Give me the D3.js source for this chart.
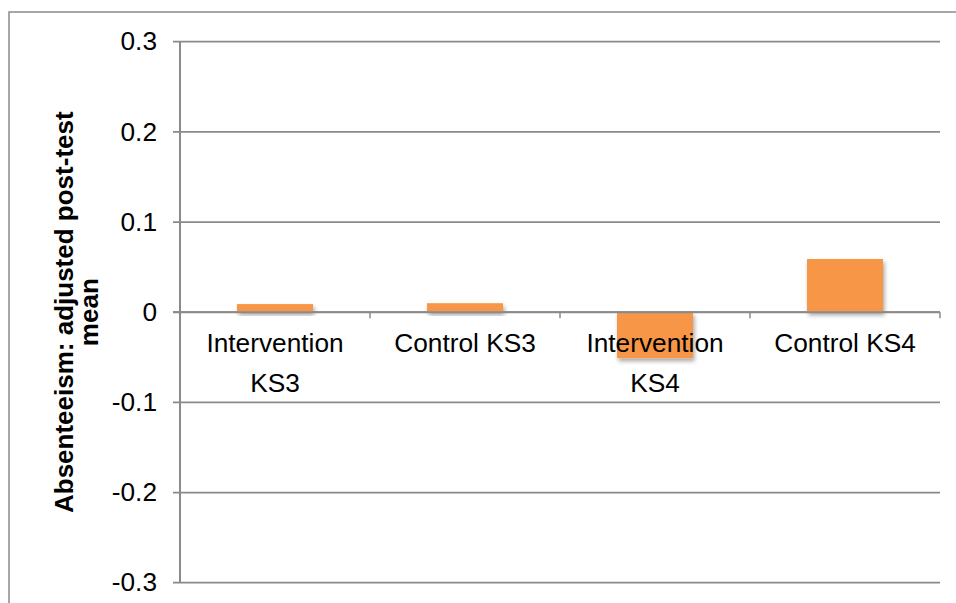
<!DOCTYPE html>
<html>
<head>
<meta charset="utf-8">
<script src="https://cdn.jsdelivr.net/npm/d3@7"></script>
<style>
  html, body { margin: 0; padding: 0; background: #fff; }
  svg { display: block; }
  text { font-family: "Liberation Sans", Arial, sans-serif; fill: #000; }
</style>
</head>
<body>
<svg id="chart" width="956" height="603"></svg>
<script>
// Adjusted post-test means for absenteeism, by group and key stage
const categories = ["Intervention KS3", "Control KS3", "Intervention KS4", "Control KS4"];
const values = [0.009, 0.010, -0.051, 0.059];
const tickValues = [-0.3, -0.2, -0.1, 0, 0.1, 0.2, 0.3];
const tickLabels = ["-0.3", "-0.2", "-0.1", "0", "0.1", "0.2", "0.3"];
const yTitleLines = ["Absenteeism: adjusted post-test", "mean"];

const svg = d3.select("#chart");
const W = 956, H = 603;
const plot = { left: 180, right: 940, top: 41.7, bottom: 582.7 };
const gridColor = "#8a8a8a";
const barColor = "#F79646";
const fontSize = 25;
const sx = 1.05; // horizontal text stretch

const defs = svg.append("defs");
const shadow = defs.append("filter").attr("id", "shadow")
  .attr("x", "-20%").attr("y", "-20%").attr("width", "140%").attr("height", "160%");
shadow.append("feDropShadow")
  .attr("dx", 1.5).attr("dy", 3).attr("stdDeviation", 2.2)
  .attr("flood-color", "#000").attr("flood-opacity", 0.35);

// Outer chart frame (runs off the right and bottom edges)
svg.append("rect")
  .attr("x", 9).attr("y", 12)
  .attr("width", W + 20).attr("height", H + 20)
  .attr("fill", "none").attr("stroke", gridColor).attr("stroke-width", 1.5);

const x = d3.scaleBand().domain(categories)
  .range([plot.left, plot.right]).paddingInner(0.6).paddingOuter(0.3);
const y = d3.scaleLinear().domain([-0.3, 0.3]).range([plot.bottom, plot.top]);

// Horizontal gridlines
svg.append("g").selectAll("line").data(tickValues).join("line")
  .attr("x1", plot.left - 7).attr("x2", plot.right)
  .attr("y1", d => y(d)).attr("y2", d => y(d))
  .attr("stroke", gridColor).attr("stroke-width", 1.8);

// Vertical axis line
svg.append("line")
  .attr("x1", plot.left).attr("x2", plot.left)
  .attr("y1", plot.top).attr("y2", plot.bottom)
  .attr("stroke", gridColor).attr("stroke-width", 2);

// Y tick labels
svg.append("g").selectAll("text").data(tickValues).join("text")
  .attr("transform", d => `translate(157,${y(d)}) scale(${sx},1)`)
  .attr("text-anchor", "end").attr("dy", "0.35em")
  .style("font-size", fontSize + "px")
  .text((d, i) => tickLabels[i]);

// Bars
svg.append("g").selectAll("rect").data(categories).join("rect")
  .attr("x", d => x(d))
  .attr("width", x.bandwidth())
  .attr("y", (d, i) => y(Math.max(0, values[i])))
  .attr("height", (d, i) => Math.abs(y(values[i]) - y(0)))
  .attr("fill", barColor)
  .attr("filter", "url(#shadow)");

// Zero axis line with category boundary ticks
svg.append("line")
  .attr("x1", plot.left - 7).attr("x2", plot.right)
  .attr("y1", y(0)).attr("y2", y(0))
  .attr("stroke", gridColor).attr("stroke-width", 2);
const boundaries = categories.map(c => x(c) - x.step() * x.paddingInner() / 2 + x.step());
svg.append("g").selectAll("line").data(boundaries).join("line")
  .attr("x1", d => d).attr("x2", d => d)
  .attr("y1", y(0)).attr("y2", y(0) + 6)
  .attr("stroke", gridColor).attr("stroke-width", 1.5);

// Category labels, wrapped to the band step
const bandCenter = c => x(c) + x.bandwidth() / 2;
const labelG = svg.append("g");
categories.forEach(c => {
  const g = labelG.append("g")
    .attr("transform", `translate(${bandCenter(c)},352) scale(${sx},1)`);
  const t = g.append("text").attr("text-anchor", "middle")
    .style("font-size", fontSize + "px");
  const words = c.split(" ");
  let line = [], lineNo = 0;
  let tspan = t.append("tspan").attr("x", 0).attr("y", 0);
  words.forEach(w => {
    line.push(w);
    tspan.text(line.join(" "));
    if (tspan.node().getComputedTextLength() * sx > x.step() - 8 && line.length > 1) {
      line.pop();
      tspan.text(line.join(" "));
      line = [w];
      lineNo++;
      tspan = t.append("tspan").attr("x", 0).attr("y", lineNo * 39.7).text(w);
    }
  });
});

// Y-axis title
const midY = (plot.top + plot.bottom) / 2;
const title = svg.append("text")
  .attr("transform", `translate(73,${midY}) rotate(-90)`)
  .attr("text-anchor", "middle")
  .style("font-size", "26px").style("font-weight", "bold");
yTitleLines.forEach((l, i) => {
  title.append("tspan").attr("x", 0).attr("y", i * 25).text(l);
});
</script>
</body>
</html>
